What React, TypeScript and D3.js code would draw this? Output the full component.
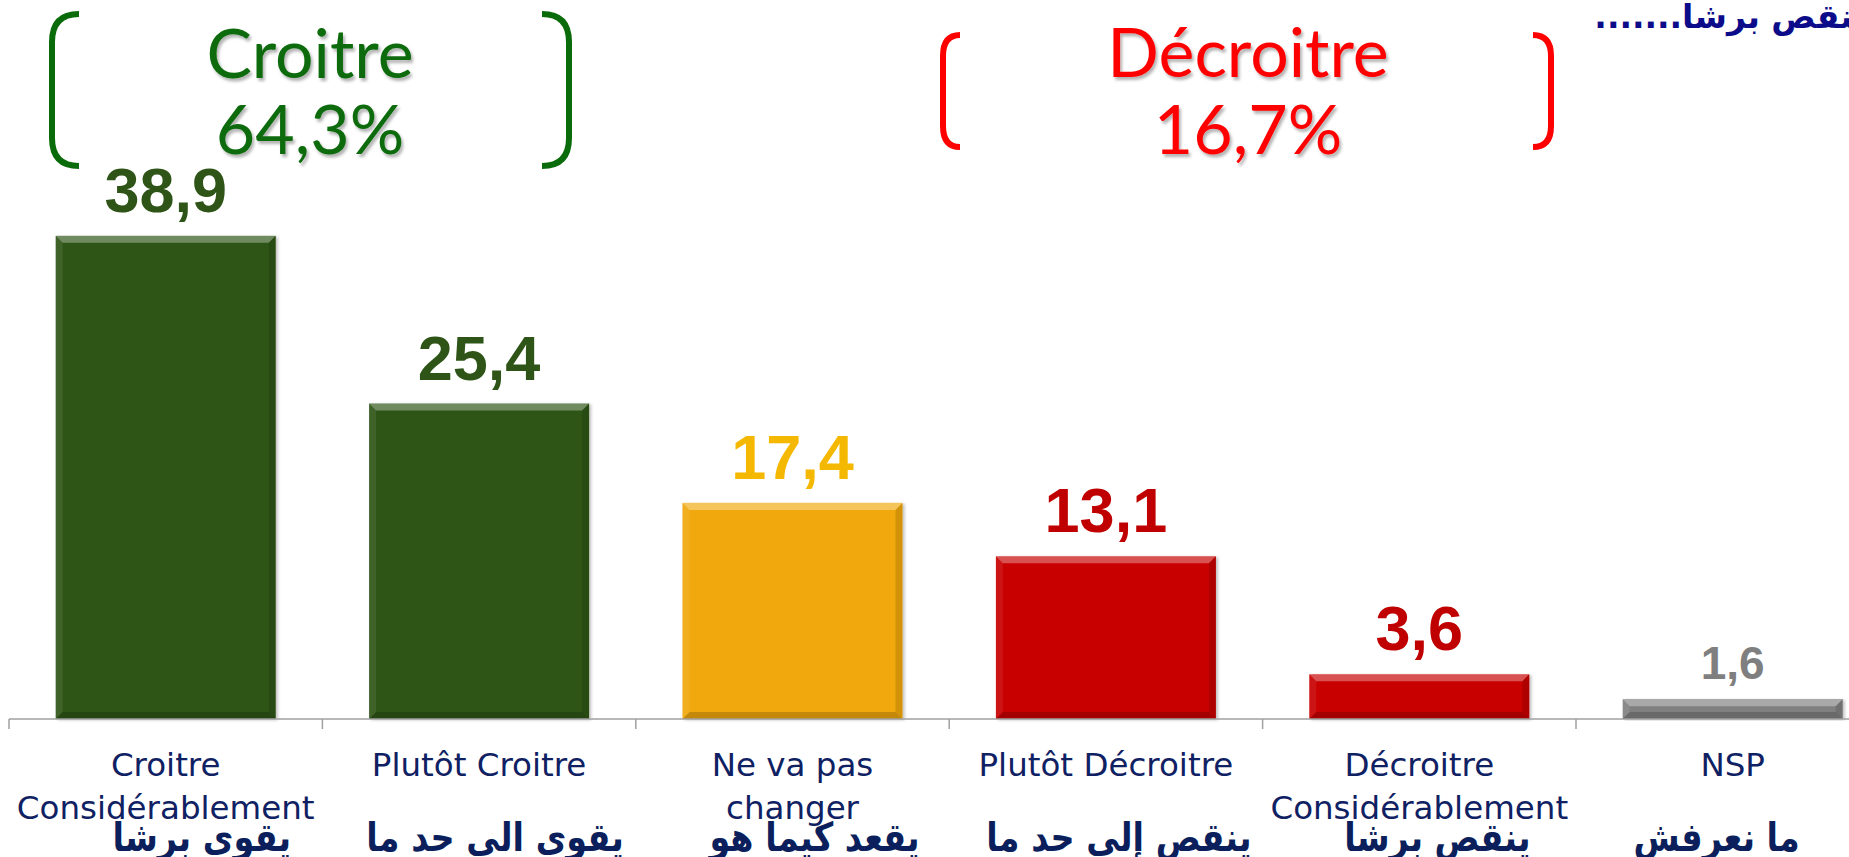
import * as d3 from 'd3';

const width = 1849;
const height = 857;

// données
const categoryIds = ['cc', 'pc', 'nvp', 'pd', 'dc', 'nsp'];
const labelsFr = [
    ['Croitre', 'Considérablement'],
    ['Plutôt Croitre'],
    ['Ne va pas', 'changer'],
    ['Plutôt Décroitre'],
    ['Décroitre', 'Considérablement'],
    ['NSP']
];
const labelsAr = ['يقوى برشا', 'يقوى الى حد ما', 'يقعد كيما هو', 'ينقص إلى حد ما', 'ينقص برشا', 'ما نعرفش'];
const values = [38.9, 25.4, 17.4, 13.1, 3.6, 1.6];
const groupNames = ['Croitre', 'Décroitre'];
const groupTotals = [64.3, 16.7];
const topNote = 'ينقص برشا.......';

// styles
const barColors = ['#2d5516', '#2d5516', '#f0a808', '#c80606', '#c80606', '#808080'];
const labelColors = ['#2e5417', '#2e5417', '#f5b800', '#c00000', '#c00000', '#7f7f7f'];
const groupColors = ['#0a6b0a', '#ff0000'];
const navy = '#0f2163';
// décalage horizontal des libellés arabes (mise en page du modèle)
const arShift = [36, 16, 22, 13, 18, -16];

const plotLeft = 9;
const step = 313.4;
const baseY = 719;

const x = d3
    .scaleBand()
    .domain(categoryIds)
    .range([plotLeft, plotLeft + step * categoryIds.length])
    .paddingInner(0.298)
    .paddingOuter(0.149);

const y = d3.scaleLinear().domain([0, 40]).range([baseY, baseY - 40 * 12.42]);

const fmt = (v: number) => v.toFixed(1).replace('.', ',');
const cx = (i: number) => (x(categoryIds[i]) as number) + x.bandwidth() / 2;

function Bar({ i }: { i: number }) {
    const x0 = x(categoryIds[i]) as number;
    const w = x.bandwidth();
    const x1 = x0 + w;
    const y0 = y(values[i]);
    const y1 = y(0);
    const b = Math.min(7, (y1 - y0) / 2);
    return (
        <g>
            <rect x={x0} y={y0} width={w} height={y1 - y0} fill={barColors[i]} filter="url(#barShadow)" />
            <polygon points={`${x0},${y0} ${x1},${y0} ${x1 - b},${y0 + b} ${x0 + b},${y0 + b}`} fill="#fff" fillOpacity={0.32} />
            <polygon points={`${x0},${y0} ${x0 + b},${y0 + b} ${x0 + b},${y1 - b} ${x0},${y1}`} fill="#fff" fillOpacity={0.08} />
            <polygon points={`${x1},${y0} ${x1 - b},${y0 + b} ${x1 - b},${y1 - b} ${x1},${y1}`} fill="#000" fillOpacity={0.12} />
            <polygon points={`${x0},${y1} ${x0 + b},${y1 - b} ${x1 - b},${y1 - b} ${x1},${y1}`} fill="#000" fillOpacity={0.18} />
        </g>
    );
}

function App() {
    const boundaries = d3.range(categoryIds.length + 1).map((i) => plotLeft + i * x.step());
    return (
        <svg
            width={width}
            height={height}
            style={{ position: 'absolute', left: 0, top: 0, background: '#fff' }}
        >
            <defs>
                <filter id="txtShadow" x="-10%" y="-10%" width="130%" height="140%">
                    <feDropShadow dx="2" dy="3" stdDeviation="1.5" floodColor="#000" floodOpacity="0.3" />
                </filter>
                <filter id="barShadow" x="-5%" y="-5%" width="115%" height="115%">
                    <feDropShadow dx="2" dy="1" stdDeviation="1.5" floodColor="#000" floodOpacity="0.25" />
                </filter>
            </defs>

            {/* accolades des groupes */}
            <g fill="none" strokeWidth={6}>
                <path d="M 79 14 Q 52 14 52 42 L 52 138 Q 52 166 79 166" stroke={groupColors[0]} />
                <path d="M 542 14 Q 569 14 569 42 L 569 138 Q 569 166 542 166" stroke={groupColors[0]} />
                <path d="M 960 35 Q 943 35 943 56 L 943 126 Q 943 147 960 147" stroke={groupColors[1]} />
                <path d="M 1533 35 Q 1551 35 1551 56 L 1551 126 Q 1551 147 1533 147" stroke={groupColors[1]} />
            </g>
            <g fontFamily="Lato, 'Open Sans', sans-serif" textAnchor="middle" fontSize={68} filter="url(#txtShadow)">
                <text x={310} y={78} fill={groupColors[0]}>{groupNames[0]}</text>
                <text x={310} y={154} fill={groupColors[0]}>{fmt(groupTotals[0])}%</text>
                <text x={1248} y={77} fill={groupColors[1]}>{groupNames[1]}</text>
                <text x={1248} y={154} fill={groupColors[1]}>{fmt(groupTotals[1])}%</text>
            </g>

            <text
                x={1866}
                y={28}
                direction="rtl"
                textAnchor="start"
                fontFamily="'DejaVu Sans', sans-serif"
                fontWeight="bold"
                fontSize={33}
                fill="#0c0c8a"
            >
                {topNote}
            </text>

            {/* barres */}
            {values.map((_, i) => (
                <Bar key={categoryIds[i]} i={i} />
            ))}

            {/* valeurs */}
            {values.map((v, i) => {
                const small = i === values.length - 1;
                return (
                    <text
                        key={'v' + i}
                        x={cx(i)}
                        y={y(v) - (small ? 20 : 24)}
                        textAnchor="middle"
                        fontFamily="'Liberation Sans', Arial, sans-serif"
                        fontWeight="bold"
                        fontSize={small ? 46 : 63}
                        fill={labelColors[i]}
                    >
                        {fmt(v)}
                    </text>
                );
            })}

            {/* axe */}
            <line x1={plotLeft} x2={width} y1={baseY} y2={baseY} stroke="#a0a0a0" strokeWidth={1.5} />
            {boundaries.map((bx, i) => (
                <line key={'t' + i} x1={bx} x2={bx} y1={baseY} y2={baseY + 10} stroke="#a0a0a0" strokeWidth={1.5} />
            ))}

            {/* libellés */}
            {labelsFr.map((lines, i) => (
                <text
                    key={'fr' + i}
                    x={cx(i)}
                    y={776}
                    textAnchor="middle"
                    fontFamily="'DejaVu Sans', sans-serif"
                    fontSize={32.5}
                    fill={navy}
                >
                    {lines.map((l, j) => (
                        <tspan key={j} x={cx(i)} dy={j === 0 ? 0 : 43}>
                            {l}
                        </tspan>
                    ))}
                </text>
            ))}
            {labelsAr.map((l, i) => (
                <text
                    key={'ar' + i}
                    transform={`translate(${cx(i) + arShift[i]},851) scale(0.88,1.05)`}
                    direction="rtl"
                    textAnchor="middle"
                    fontFamily="'DejaVu Sans', sans-serif"
                    fontWeight="bold"
                    fontSize={38}
                    fill="#0b1f5c"
                >
                    {l}
                </text>
            ))}
        </svg>
    );
}

export default App;
